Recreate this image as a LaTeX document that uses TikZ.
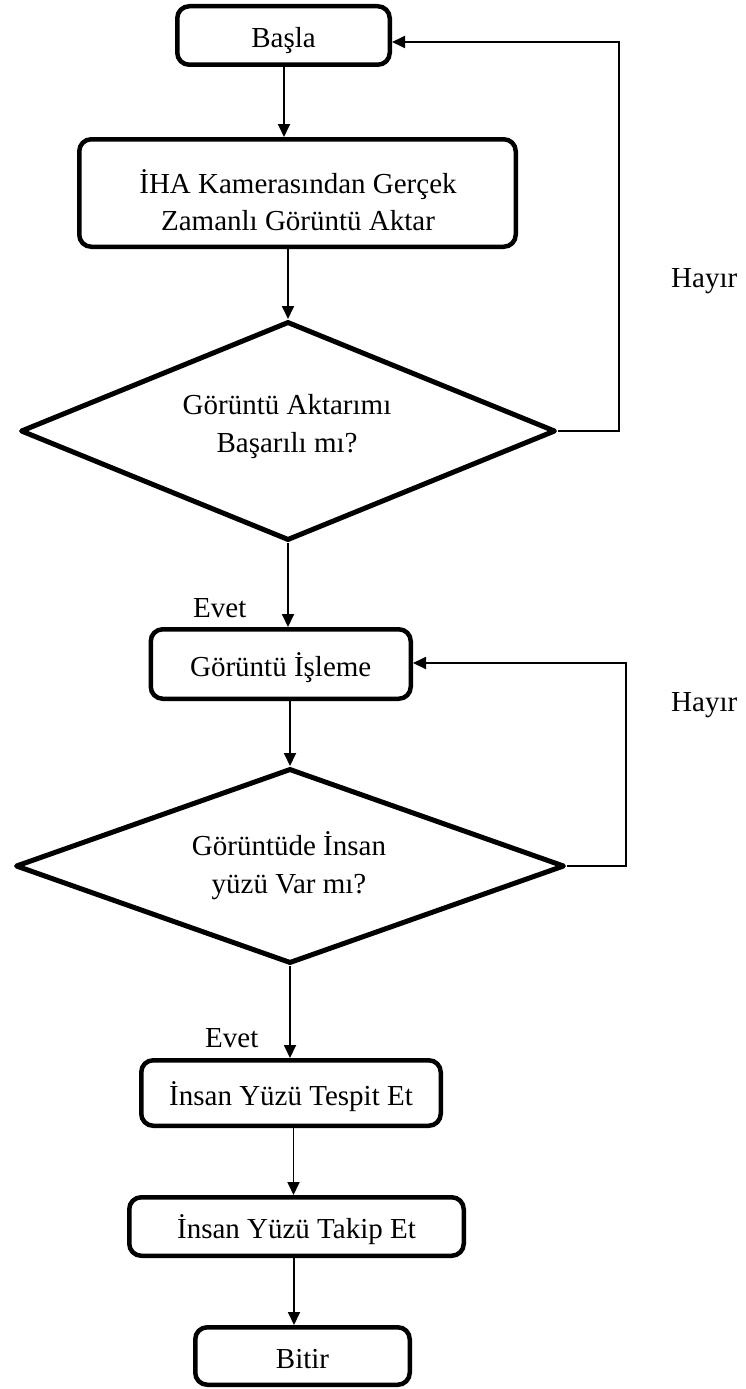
\documentclass[tikz,border=0pt]{standalone}
\usepackage{fontspec}
\setmainfont{Liberation Serif}
\usetikzlibrary{shapes.geometric,arrows.meta}
\begin{document}
\begin{tikzpicture}[x=1pt,y=-1pt,
  every node/.style={font=\fontsize{29pt}{36pt}\selectfont},
  procbox/.style={draw, rectangle, rounded corners=12pt, line width=4.5pt, inner sep=0pt, text height=26pt, text depth=2pt},
  decision/.style={draw, diamond, line width=5pt, line join=round, inner sep=0pt},
  txt/.style={anchor=base, inner sep=0pt},
  lbl/.style={anchor=base west, inner sep=0pt},
  conn/.style={line width=1.8pt, line join=miter, -{Triangle[length=13pt,width=12pt]}},
]
\useasboundingbox (0,0) rectangle (746,1389);

% process boxes
\node[procbox, minimum width=212.5pt, minimum height=58.5pt] (start) at (283.5,35.5) {Başla};
\node[procbox, minimum width=436.5pt, minimum height=107.5pt] (cam) at (297.5,193) {};
\node[txt] (camA) at (298,193) {İHA Kamerasından Gerçek};
\node[txt] (camB) at (298,230) {Zamanlı Görüntü Aktar};

\node[decision, minimum width=535pt, minimum height=219pt] (d1) at (288,431) {};
\node[txt] (d1a) at (287,414) {Görüntü Aktarımı};
\node[txt] (d1b) at (287,452) {Başarılı mı?};

\node[procbox, minimum width=260pt, minimum height=69.5pt] (isleme) at (280.75,664) {Görüntü İşleme};

\node[decision, minimum width=549pt, minimum height=195pt] (d2) at (290,866) {};
\node[txt] (d2a) at (289,855) {Görüntüde İnsan};
\node[txt] (d2b) at (289,893) {yüzü Var mı?};

\node[procbox, minimum width=299.5pt, minimum height=65.5pt] (tespit) at (291,1093) {İnsan Yüzü Tespit Et};
\node[procbox, minimum width=334.5pt, minimum height=58.5pt] (takip) at (296.5,1226.5) {İnsan Yüzü Takip Et};
\node[procbox, minimum width=214.5pt, minimum height=57.5pt] (bitir) at (302.5,1356) {Bitir};

% labels
\node[lbl] (hayir1) at (671,287) {Hayır};
\node[lbl] (hayir2) at (671,711) {Hayır};
\node[lbl] (evet1) at (193,617) {Evet};
\node[lbl] (evet2) at (205,1047) {Evet};

% connectors
\draw[conn] (start.south -| 284,0) -- (cam.north -| 284,0);
\draw[conn] (cam.south -| d1.north) -- (d1.north);
\draw[conn] (d1.south) -- (d1.south |- isleme.north);
\draw[conn] (isleme.south -| d2.north) -- (d2.north);
\draw[conn] (d2.south) -- (d2.south |- tespit.north);
\draw[conn] (tespit.south -| 293.5,0) -- (takip.north -| 293.5,0);
\draw[conn] (takip.south -| 294,0) -- (bitir.north -| 294,0);

\coordinate (fb1) at (619,42);
\coordinate (fb2) at (626,663);
\draw[conn] (d1.east) -| (fb1) -- (fb1 -| start.east);
\draw[conn] (d2.east) -| (fb2) -- (fb2 -| isleme.east);
\end{tikzpicture}
\end{document}
